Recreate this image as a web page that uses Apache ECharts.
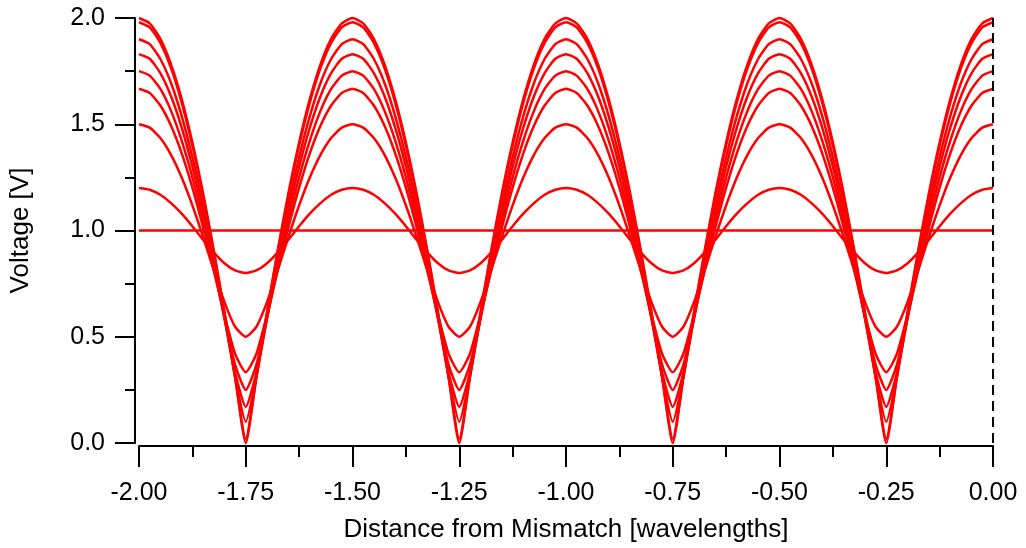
<!DOCTYPE html>
<html>
<head>
<meta charset="utf-8">
<script src="https://cdn.jsdelivr.net/npm/echarts@6/dist/echarts.min.js"></script>
<style>
html,body{margin:0;padding:0;background:#fff;}
#c{width:1026px;height:548px;}
</style>
</head>
<body>
<div id="c"></div>
<script>
// Distance from mismatch (wavelengths)
const distance = [-2,-1.975,-1.95,-1.925,-1.9,-1.875,-1.85,-1.825,-1.8,-1.775,-1.75,-1.725,-1.7,-1.675,-1.65,-1.625,-1.6,-1.575,-1.55,-1.525,-1.5,-1.475,-1.45,-1.425,-1.4,-1.375,-1.35,-1.325,-1.3,-1.275,-1.25,-1.225,-1.2,-1.175,-1.15,-1.125,-1.1,-1.075,-1.05,-1.025,-1,-0.975,-0.95,-0.925,-0.9,-0.875,-0.85,-0.825,-0.8,-0.775,-0.75,-0.725,-0.7,-0.675,-0.65,-0.625,-0.6,-0.575,-0.55,-0.525,-0.5,-0.475,-0.45,-0.425,-0.4,-0.375,-0.35,-0.325,-0.3,-0.275,-0.25,-0.225,-0.2,-0.175,-0.15,-0.125,-0.1,-0.075,-0.05,-0.025,0];

// Voltage curves (V), one per reflection magnitude
const v100 = [
2,1.975,1.902,1.782,1.618,1.414,1.176,0.908,0.618,0.313,0,0.313,0.618,0.908,1.176,1.414,1.618,1.782,1.902,1.975,
2,1.975,1.902,1.782,1.618,1.414,1.176,0.908,0.618,0.313,0,0.313,0.618,0.908,1.176,1.414,1.618,1.782,1.902,1.975,
2,1.975,1.902,1.782,1.618,1.414,1.176,0.908,0.618,0.313,0,0.313,0.618,0.908,1.176,1.414,1.618,1.782,1.902,1.975,
2,1.975,1.902,1.782,1.618,1.414,1.176,0.908,0.618,0.313,0,0.313,0.618,0.908,1.176,1.414,1.618,1.782,1.902,1.975,
2];
const v098 = [
1.98,1.956,1.883,1.764,1.602,1.4,1.164,0.899,0.612,0.31,0.02,0.31,0.612,0.899,1.164,1.4,1.602,1.764,1.883,1.956,
1.98,1.956,1.883,1.764,1.602,1.4,1.164,0.899,0.612,0.31,0.02,0.31,0.612,0.899,1.164,1.4,1.602,1.764,1.883,1.956,
1.98,1.956,1.883,1.764,1.602,1.4,1.164,0.899,0.612,0.31,0.02,0.31,0.612,0.899,1.164,1.4,1.602,1.764,1.883,1.956,
1.98,1.956,1.883,1.764,1.602,1.4,1.164,0.899,0.612,0.31,0.02,0.31,0.612,0.899,1.164,1.4,1.602,1.764,1.883,1.956,
1.98];
const v090 = [
1.9,1.877,1.807,1.694,1.538,1.345,1.12,0.867,0.595,0.313,0.1,0.313,0.595,0.867,1.12,1.345,1.538,1.694,1.807,1.877,
1.9,1.877,1.807,1.694,1.538,1.345,1.12,0.867,0.595,0.313,0.1,0.313,0.595,0.867,1.12,1.345,1.538,1.694,1.807,1.877,
1.9,1.877,1.807,1.694,1.538,1.345,1.12,0.867,0.595,0.313,0.1,0.313,0.595,0.867,1.12,1.345,1.538,1.694,1.807,1.877,
1.9,1.877,1.807,1.694,1.538,1.345,1.12,0.867,0.595,0.313,0.1,0.313,0.595,0.867,1.12,1.345,1.538,1.694,1.807,1.877,
1.9];
const v083 = [
1.83,1.808,1.741,1.632,1.484,1.3,1.084,0.845,0.588,0.332,0.17,0.332,0.588,0.845,1.084,1.3,1.484,1.632,1.741,1.808,
1.83,1.808,1.741,1.632,1.484,1.3,1.084,0.845,0.588,0.332,0.17,0.332,0.588,0.845,1.084,1.3,1.484,1.632,1.741,1.808,
1.83,1.808,1.741,1.632,1.484,1.3,1.084,0.845,0.588,0.332,0.17,0.332,0.588,0.845,1.084,1.3,1.484,1.632,1.741,1.808,
1.83,1.808,1.741,1.632,1.484,1.3,1.084,0.845,0.588,0.332,0.17,0.332,0.588,0.845,1.084,1.3,1.484,1.632,1.741,1.808,
1.83];
const v075 = [
1.75,1.729,1.666,1.563,1.423,1.25,1.048,0.825,0.591,0.369,0.25,0.369,0.591,0.825,1.048,1.25,1.423,1.563,1.666,1.729,
1.75,1.729,1.666,1.563,1.423,1.25,1.048,0.825,0.591,0.369,0.25,0.369,0.591,0.825,1.048,1.25,1.423,1.563,1.666,1.729,
1.75,1.729,1.666,1.563,1.423,1.25,1.048,0.825,0.591,0.369,0.25,0.369,0.591,0.825,1.048,1.25,1.423,1.563,1.666,1.729,
1.75,1.729,1.666,1.563,1.423,1.25,1.048,0.825,0.591,0.369,0.25,0.369,0.591,0.825,1.048,1.25,1.423,1.563,1.666,1.729,
1.75];
const v067 = [
1.667,1.647,1.588,1.493,1.363,1.202,1.016,0.813,0.605,0.42,0.333,0.42,0.605,0.813,1.016,1.202,1.363,1.493,1.588,1.647,
1.667,1.647,1.588,1.493,1.363,1.202,1.016,0.813,0.605,0.42,0.333,0.42,0.605,0.813,1.016,1.202,1.363,1.493,1.588,1.647,
1.667,1.647,1.588,1.493,1.363,1.202,1.016,0.813,0.605,0.42,0.333,0.42,0.605,0.813,1.016,1.202,1.363,1.493,1.588,1.647,
1.667,1.647,1.588,1.493,1.363,1.202,1.016,0.813,0.605,0.42,0.333,0.42,0.605,0.813,1.016,1.202,1.363,1.493,1.588,1.647,
1.667];
const v050 = [
1.5,1.484,1.435,1.356,1.249,1.118,0.97,0.814,0.664,0.547,0.5,0.547,0.664,0.814,0.97,1.118,1.249,1.356,1.435,1.484,
1.5,1.484,1.435,1.356,1.249,1.118,0.97,0.814,0.664,0.547,0.5,0.547,0.664,0.814,0.97,1.118,1.249,1.356,1.435,1.484,
1.5,1.484,1.435,1.356,1.249,1.118,0.97,0.814,0.664,0.547,0.5,0.547,0.664,0.814,0.97,1.118,1.249,1.356,1.435,1.484,
1.5,1.484,1.435,1.356,1.249,1.118,0.97,0.814,0.664,0.547,0.5,0.547,0.664,0.814,0.97,1.118,1.249,1.356,1.435,1.484,
1.5];
const v020 = [
1.2,1.192,1.168,1.129,1.079,1.02,0.957,0.897,0.846,0.812,0.8,0.812,0.846,0.897,0.957,1.02,1.079,1.129,1.168,1.192,
1.2,1.192,1.168,1.129,1.079,1.02,0.957,0.897,0.846,0.812,0.8,0.812,0.846,0.897,0.957,1.02,1.079,1.129,1.168,1.192,
1.2,1.192,1.168,1.129,1.079,1.02,0.957,0.897,0.846,0.812,0.8,0.812,0.846,0.897,0.957,1.02,1.079,1.129,1.168,1.192,
1.2,1.192,1.168,1.129,1.079,1.02,0.957,0.897,0.846,0.812,0.8,0.812,0.846,0.897,0.957,1.02,1.079,1.129,1.168,1.192,
1.2];
// Matched line: flat 1.0 V
const flatDistance = [-2, 0];
const v000 = [1, 1];

const curves = [v100, v098, v090, v083, v075, v067, v050, v020];

const chart = echarts.init(document.getElementById('c'), null, {renderer: 'canvas'});
const FONT = '"Liberation Sans", Arial, sans-serif';
const RED = '#ff0000';

function pairs(xs, ys) { return xs.map((x, i) => [x, ys[i]]); }

const series = curves.map(ys => ({
  type: 'line',
  data: pairs(distance, ys),
  showSymbol: false,
  smooth: 0.2,
  clip: false,
  lineStyle: {color: RED, width: 2.5},
  animation: false
}));
series.push({
  type: 'line',
  data: pairs(flatDistance, v000),
  showSymbol: false,
  lineStyle: {color: RED, width: 2.5},
  animation: false,
  markLine: {
    silent: true,
    symbol: 'none',
    label: {show: false},
    lineStyle: {color: '#000', width: 2, type: [10, 6]},
    data: [{xAxis: 0}]
  }
});

chart.setOption({
  backgroundColor: '#fff',
  animation: false,
  grid: {left: 139, right: 33, top: 18, bottom: 102, containLabel: false},
  xAxis: {
    type: 'value', min: -2, max: 0, interval: 0.25,
    offset: 3,
    axisLine: {show: true, onZero: false, lineStyle: {color: '#000', width: 2}},
    axisTick: {show: true, length: 21, lineStyle: {color: '#000', width: 2}},
    minorTick: {show: true, splitNumber: 2, length: 11, lineStyle: {color: '#000', width: 2}},
    splitLine: {show: false},
    axisLabel: {color: '#000', fontFamily: FONT, fontSize: 25, margin: 35,
      formatter: v => v.toFixed(2), showMinLabel: true, showMaxLabel: true},
    name: 'Distance from Mismatch [wavelengths]',
    nameLocation: 'middle', nameGap: 71,
    nameTextStyle: {color: '#000', fontFamily: FONT, fontSize: 26}
  },
  yAxis: {
    type: 'value', min: 0, max: 2, interval: 0.5,
    offset: 4,
    axisLine: {show: true, onZero: false, lineStyle: {color: '#000', width: 2}},
    axisTick: {show: true, length: 20, lineStyle: {color: '#000', width: 2}},
    minorTick: {show: true, splitNumber: 2, length: 10, lineStyle: {color: '#000', width: 2}},
    splitLine: {show: false},
    axisLabel: {color: '#000', fontFamily: FONT, fontSize: 25, margin: 30,
      formatter: v => v.toFixed(1), showMinLabel: true, showMaxLabel: true},
    name: 'Voltage [V]',
    nameLocation: 'middle', nameGap: 101,
    nameTextStyle: {color: '#000', fontFamily: FONT, fontSize: 26}
  },
  series: series
});
</script>
</body>
</html>
